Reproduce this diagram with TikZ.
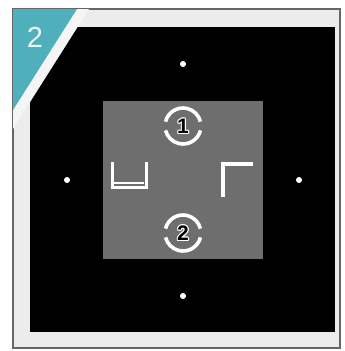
\documentclass[tikz,border=0pt]{standalone}
\usepackage{fontspec}
\setmainfont{Liberation Sans}
\definecolor{framegray}{HTML}{ECECEC}
\definecolor{frameline}{HTML}{666666}
\definecolor{badgeteal}{HTML}{4FB0BC}
\definecolor{badgetext}{HTML}{E8F6F8}
\definecolor{panelgray}{HTML}{6E6E6E}
\begin{document}
\begin{tikzpicture}[x=1pt,y=-1pt,
  numtext/.style={font=\fontsize{21}{21}\selectfont\bfseries, inner sep=0pt},
  ring/.style={draw=white, line width=3.6},
  mark line/.style={draw=white, line width=3.5, line join=miter},
  dotmark/.style={fill=white}]
\useasboundingbox (0,0) rectangle (345,351);
\fill[white] (0,0) rectangle (345,351);
% frame
\draw[fill=framegray, draw=frameline, line width=1.2] (13,9) rectangle (340,348);
\fill[black] (30,27) rectangle (335,332);
% badge
\fill[white!96!black] (13,9) -- (89,9) -- (13,129) -- cycle;
\fill[badgeteal] (13,9) -- (77,9) -- (13,110) -- cycle;
\node[text=badgetext, inner sep=0pt, font=\fontsize{29}{29}\selectfont] (badge) at (35,37) {2};
% panel
\fill[panelgray] (103,101) rectangle (263,259);
% dots
\fill[dotmark] (183,64) circle[radius=3];
\fill[dotmark] (67,180) circle[radius=3];
\fill[dotmark] (299,180) circle[radius=3];
\fill[dotmark] (183,296) circle[radius=3];
% ring 1
\draw[ring] ([shift={(14:18)}]183,126) arc[start angle=14, end angle=166, radius=18];
\draw[ring] ([shift={(194:18)}]183,126) arc[start angle=194, end angle=346, radius=18];
\foreach \dx/\dy in {-1.1/0, 1.1/0, 0/-1.1, 0/1.1, -0.8/-0.8, 0.8/0.8, -0.8/0.8, 0.8/-0.8}
  {\node[numtext, text=white] at ([shift={(\dx,\dy)}]183,126) {1};}
\node[numtext, text=black] (one) at (183,126) {1};
% ring 2
\draw[ring] ([shift={(14:18)}]183,233) arc[start angle=14, end angle=166, radius=18];
\draw[ring] ([shift={(194:18)}]183,233) arc[start angle=194, end angle=346, radius=18];
\foreach \dx/\dy in {-1.1/0, 1.1/0, 0/-1.1, 0/1.1, -0.8/-0.8, 0.8/0.8, -0.8/0.8, 0.8/-0.8}
  {\node[numtext, text=white] at ([shift={(\dx,\dy)}]183,233) {2};}
\node[numtext, text=black] (two) at (183,233) {2};
% U mark
\draw[mark line, line width=3] (112,162) -- (112,187) -- (146,187) -- (146,162);
\draw[white, line width=2] (114,182.5) -- (144,182.5);
% corner mark
\draw[mark line, line width=4] (222.5,197) -- (222.5,163.5) -- (253,163.5);
\end{tikzpicture}
\end{document}
